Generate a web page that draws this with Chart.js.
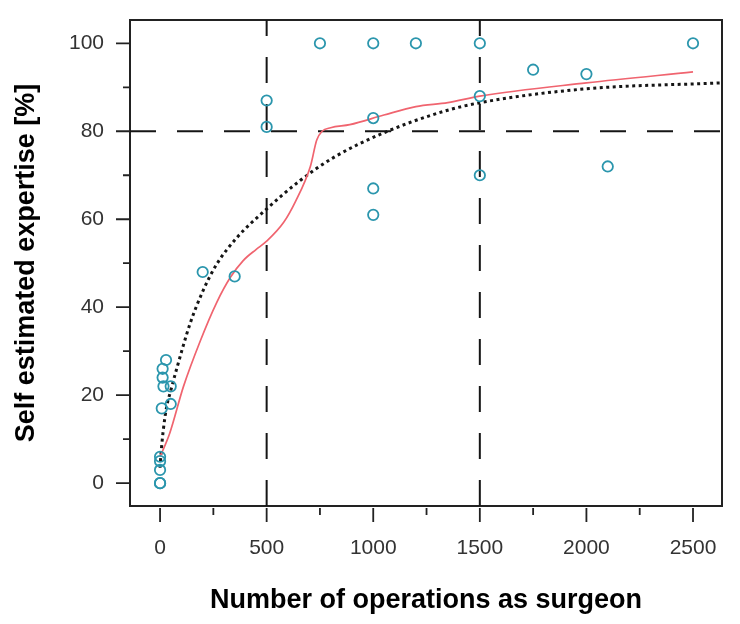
<!DOCTYPE html>
<html>
<head>
<meta charset="utf-8">
<script src="https://cdn.jsdelivr.net/npm/chart.js@4.4.1/dist/chart.umd.min.js"></script>
<style>
    body { margin: 0; background: #fff; }
</style>
</head>
<body>
<canvas id="graphiqueExpertise" width="740" height="624"></canvas>
<script>
// Surgeons: operations done vs self estimated expertise (%)
const operations = [0, 0, 0, 0, 0, 8, 12, 12, 16, 28, 50, 50,
                    200, 350, 500, 500, 750, 1000, 1000, 1000, 1000, 1200,
                    1500, 1500, 1500, 1750, 2000, 2100, 2500];
const expertise  = [0, 0, 3, 5, 6, 17, 24, 26, 22, 28, 22, 18,
                    48, 47, 87, 81, 100, 100, 83, 67, 61, 100,
                    100, 88, 70, 94, 93, 72, 100];

// Smoothed curve (red)
const lissageX = [0, 45, 110, 190, 265, 330, 390, 450, 500, 580, 635, 705, 735, 760, 800, 890, 1050, 1200, 1350, 1500, 2000, 2500];
const lissageY = [6, 11.3, 22, 32.5, 41, 46.8, 50.6, 53.1, 55, 59.3, 64, 72, 78, 80, 80.8, 81.5, 83.7, 85.6, 86.5, 88, 91, 93.5];

// Fitted curve (dotted)
const ajustX = [0, 5, 15, 31, 50, 78, 141, 203, 266, 360, 497, 657, 813, 1047, 1329, 1501, 1985, 2630];
const ajustY = [3.5, 7, 12, 17.4, 21, 26, 36.3, 43.9, 49.8, 55.8, 62.2, 68.8, 74, 79.6, 84.5, 86.5, 89.6, 91];

// Reference lines
const seuilsX = [500, 1500];
const seuilsY = [80];

// Axis ticks
const ticksMajeursX = [0, 500, 1000, 1500, 2000, 2500];
const ticksMineursX = [250, 750, 1250, 1750, 2250];
const ticksMajeursY = [0, 20, 40, 60, 80, 100];
const ticksMineursY = [10, 30, 50, 70, 90];

const X_MIN = -141, X_MAX = 2636;
const Y_MIN = -5.2, Y_MAX = 105.3;

const NOIR = '#151515';

function enPoints(xs, ys) {
    return xs.map((v, i) => ({ x: v, y: ys[i] }));
}

// box around the plot + R-style outside ticks
const cadre = {
    id: 'cadre',
    beforeDatasetsDraw(chart) {
        const { ctx, chartArea: a, scales: { x, y } } = chart;
        ctx.save();
        ctx.strokeStyle = '#222';
        ctx.lineWidth = 2;
        ctx.strokeRect(a.left, a.top, a.right - a.left, a.bottom - a.top);

        ctx.lineWidth = 1.8;
        ctx.beginPath();
        ticksMajeursY.forEach(v => {
            const p = y.getPixelForValue(v);
            ctx.moveTo(a.left - 14, p);
            ctx.lineTo(a.left, p);
        });
        ticksMineursY.forEach(v => {
            const p = y.getPixelForValue(v);
            ctx.moveTo(a.left - 7, p);
            ctx.lineTo(a.left, p);
        });
        ticksMajeursX.forEach(v => {
            const p = x.getPixelForValue(v);
            ctx.moveTo(p, a.bottom + 2);
            ctx.lineTo(p, a.bottom + 16);
        });
        ticksMineursX.forEach(v => {
            const p = x.getPixelForValue(v);
            ctx.moveTo(p, a.bottom + 2);
            ctx.lineTo(p, a.bottom + 9);
        });
        ctx.stroke();
        ctx.restore();
    }
};

const lignesRef = [
    ...seuilsX.map(v => enPoints([v, v], [Y_MIN, Y_MAX])),
    ...seuilsY.map(v => enPoints([X_MIN, X_MAX], [v, v]))
].map(d => ({
    data: d,
    showLine: true,
    borderColor: NOIR,
    borderWidth: 2,
    borderDash: [26, 21],
    pointRadius: 0,
    order: 4
}));

const policeTicks = { family: 'Liberation Sans', size: 21 };
const policeTitre = { family: 'Liberation Sans', size: 27, weight: 'bold' };

new Chart(document.getElementById('graphiqueExpertise'), {
    type: 'scatter',
    data: {
        datasets: [
            {
                label: 'Surgeons',
                data: enPoints(operations, expertise),
                pointRadius: 5.2,
                pointBorderWidth: 1.8,
                pointBorderColor: '#2b96ad',
                pointBackgroundColor: 'rgba(0,0,0,0)',
                order: 1
            },
            {
                label: 'Smoothed',
                data: enPoints(lissageX, lissageY),
                showLine: true,
                borderColor: '#f0646f',
                borderWidth: 1.7,
                pointRadius: 0,
                cubicInterpolationMode: 'monotone',
                order: 2
            },
            {
                label: 'Fit',
                data: enPoints(ajustX, ajustY),
                showLine: true,
                borderColor: NOIR,
                borderWidth: 3,
                borderDash: [3, 3.5],
                pointRadius: 0,
                cubicInterpolationMode: 'monotone',
                order: 3
            },
            ...lignesRef
        ]
    },
    options: {
        responsive: false,
        animation: false,
        layout: { padding: { top: 20, right: 18, left: 0, bottom: 0 } },
        plugins: {
            legend: { display: false },
            tooltip: { enabled: false }
        },
        scales: {
            x: {
                type: 'linear',
                min: X_MIN,
                max: X_MAX,
                grid: { display: false, drawTicks: false },
                border: { display: false },
                afterBuildTicks: s => { s.ticks = ticksMajeursX.map(v => ({ value: v })); },
                afterFit: s => {
                    s.height = 118;
                    s.paddingLeft = 0;
                    s.paddingRight = 0;
                },
                ticks: {
                    padding: 30,
                    color: '#333',
                    font: policeTicks,
                    callback: v => String(v)
                },
                title: {
                    display: true,
                    text: 'Number of operations as surgeon',
                    color: '#000',
                    padding: { top: 4, bottom: 7 },
                    font: policeTitre
                }
            },
            y: {
                min: Y_MIN,
                max: Y_MAX,
                grid: { display: false, drawTicks: false },
                border: { display: false },
                afterBuildTicks: s => { s.ticks = ticksMajeursY.map(v => ({ value: v })); },
                afterFit: s => {
                    s.width = 130;
                    s.paddingTop = 0;
                    s.paddingBottom = 0;
                },
                ticks: {
                    padding: 26,
                    color: '#333',
                    font: policeTicks,
                    callback: v => String(v)
                },
                title: {
                    display: true,
                    text: 'Self estimated expertise [%]',
                    color: '#000',
                    padding: { top: 10, bottom: 4 },
                    font: policeTitre
                }
            }
        }
    },
    plugins: [cadre]
});
</script>
</body>
</html>
